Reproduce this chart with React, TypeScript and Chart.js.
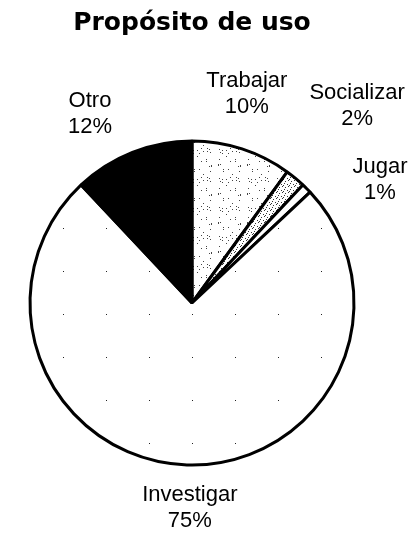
import React, { useEffect, useRef } from "react";
import { Chart, registerables } from "chart.js";

Chart.register(...registerables);

const TITLE = "Propósito de uso";
const categories = ["Trabajar", "Socializar", "Jugar", "Investigar", "Otro"];
const values = [10, 2, 1, 75, 12];
const percentLabels = ["10%", "2%", "1%", "75%", "12%"];

// label placement relative to slice mid-angle (degrees) and radius multiple
const labelPlacement = [
  { dA: -3.3, r: 1.334 },
  { dA: 0.3, r: 1.589 },
  { dA: 11.8, r: 1.387 },
  { dA: -1.2, r: 1.268 },
  { dA: -6.7, r: 1.328 },
];

function makePattern(bg: string, dot: string, size: number, test: (x: number, y: number) => boolean) {
  const c = document.createElement("canvas");
  c.width = size;
  c.height = size;
  const g = c.getContext("2d")!;
  g.fillStyle = bg;
  g.fillRect(0, 0, size, size);
  g.fillStyle = dot;
  for (let y = 0; y < size; y++) {
    for (let x = 0; x < size; x++) {
      if (test(x, y)) g.fillRect(x, y, 1, 1);
    }
  }
  return g.createPattern(c, "repeat")!;
}

const labelPlugin = {
  id: "outsideLabels",
  afterDraw(chart: any) {
    const meta = chart.getDatasetMeta(0);
    const ctx = chart.ctx;
    ctx.save();
    ctx.fillStyle = "#000";
    ctx.font = '22px "Liberation Sans", Arial, sans-serif';
    ctx.textAlign = "center";
    ctx.textBaseline = "middle";
    meta.data.forEach((arc: any, i: number) => {
      const p = arc.getProps(["x", "y", "startAngle", "endAngle", "outerRadius"], true);
      const mid = (p.startAngle + p.endAngle) / 2 + (labelPlacement[i].dA * Math.PI) / 180;
      const rr = p.outerRadius * labelPlacement[i].r;
      const cx = p.x + Math.cos(mid) * rr;
      const cy = p.y + Math.sin(mid) * rr;
      ctx.fillText(categories[i], cx, cy - 13);
      ctx.fillText(percentLabels[i], cx, cy + 13);
    });
    ctx.restore();
  },
};

export default function App() {
  const ref = useRef<HTMLCanvasElement | null>(null);
  useEffect(() => {
    document.body.style.margin = "0";
    const canvas = ref.current!;
    const trabajar = makePattern("#ffffff", "#444444", 29, (x, y) => (x * x * 7 + y * y * 3 + x * y * 5 + y * 11) % 29 === 0);
    const socializar = makePattern("#ffffff", "#333333", 6, (x, y) => (x * 3 + y * 5) % 7 === 0);
    const investigar = makePattern("#ffffff", "#222222", 43, (x, y) => x === 20 && y === 13);
    const chart = new Chart(canvas, {
      type: "pie",
      data: {
        labels: categories,
        datasets: [
          {
            data: values,
            backgroundColor: [trabajar, socializar, "#ffffff", investigar, "#000000"],
            borderColor: "#000000",
            borderWidth: 3,
          },
        ],
      },
      options: {
        responsive: false,
        animation: false,
        radius: 162,
        layout: { padding: { left: 0, right: 30, top: 0, bottom: 9 } },
        plugins: {
          legend: { display: false },
          tooltip: { enabled: false },
          title: {
            display: true,
            text: TITLE,
            color: "#000",
            font: { family: '"DejaVu Sans", sans-serif', size: 25, weight: "bold" },
            padding: { top: 8, bottom: 42 },
          },
        },
      } as any,
      plugins: [labelPlugin],
    });
    return () => chart.destroy();
  }, []);
  return <canvas ref={ref} width={414} height={535} style={{ display: "block" }} />;
}
